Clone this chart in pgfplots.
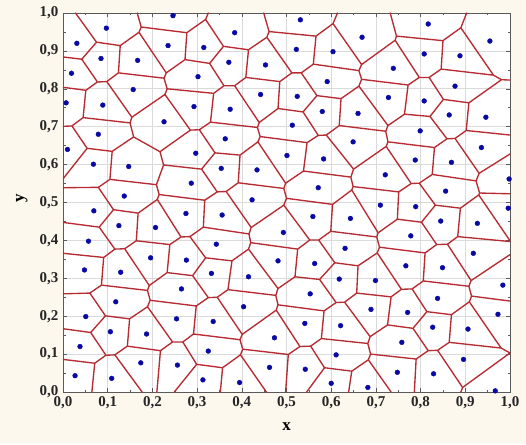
\documentclass[border=0pt]{standalone}
\usepackage{pgfplots}
\pgfplotsset{compat=1.18}
\usepackage{pgfplotstable}
\usepackage{fontspec}
\setmainfont{Liberation Serif}
\definecolor{bgcream}{RGB}{252,248,238}
\definecolor{vred}{RGB}{182,44,50}
\definecolor{dotblue}{RGB}{8,8,165}
\definecolor{gridgray}{RGB}{218,218,218}
\definecolor{framegray}{RGB}{90,90,90}
\pgfplotstableread{
x y
0.246 0.993
0.097 0.960
0.031 0.920
0.235 0.914
0.085 0.880
0.167 0.875
0.019 0.841
0.302 0.832
0.157 0.798
0.007 0.763
0.089 0.757
0.293 0.753
0.226 0.713
0.079 0.680
0.531 0.982
0.384 0.948
0.315 0.909
0.522 0.904
0.604 0.898
0.371 0.870
0.453 0.863
0.591 0.819
0.442 0.785
0.524 0.780
0.374 0.746
0.580 0.740
0.660 0.735
0.513 0.704
0.363 0.668
0.649 0.660
0.817 0.971
0.669 0.936
0.955 0.926
0.808 0.892
0.888 0.887
0.739 0.854
0.877 0.807
0.728 0.777
0.808 0.768
0.864 0.731
0.946 0.725
0.799 0.689
0.936 0.645
0.788 0.612
0.869 0.606
0.721 0.573
0.998 0.562
0.856 0.530
0.710 0.493
0.789 0.489
0.996 0.485
0.643 0.458
0.845 0.451
0.927 0.445
0.778 0.412
0.918 0.366
0.767 0.333
0.849 0.328
0.699 0.294
0.984 0.282
0.838 0.247
0.689 0.218
0.771 0.210
0.973 0.205
0.827 0.171
0.906 0.166
0.758 0.131
0.896 0.086
0.748 0.052
0.829 0.048
0.682 0.012
0.967 0.003
0.297 0.630
0.501 0.624
0.583 0.615
0.354 0.590
0.434 0.586
0.287 0.551
0.571 0.539
0.423 0.507
0.356 0.467
0.559 0.463
0.493 0.421
0.343 0.390
0.631 0.379
0.481 0.346
0.563 0.339
0.332 0.313
0.415 0.304
0.618 0.298
0.553 0.259
0.404 0.225
0.621 0.175
0.541 0.181
0.336 0.186
0.473 0.143
0.611 0.098
0.325 0.108
0.462 0.065
0.542 0.060
0.313 0.032
0.395 0.025
0.600 0.023
0.010 0.640
0.068 0.601
0.147 0.595
0.137 0.517
0.069 0.478
0.275 0.471
0.125 0.439
0.207 0.434
0.057 0.398
0.196 0.354
0.276 0.348
0.048 0.322
0.129 0.316
0.265 0.272
0.118 0.238
0.051 0.199
0.254 0.193
0.106 0.159
0.187 0.153
0.038 0.120
0.174 0.077
0.256 0.071
0.027 0.043
0.109 0.036
}\points
\pgfplotstableread{
x y
0.175 0.963
0.166 1.000
nan nan
0.075 0.923
0.028 1.000
nan nan
0.175 0.963
0.170 0.949
nan nan
0.075 0.923
0.128 0.914
nan nan
0.128 0.914
0.170 0.949
nan nan
0.075 0.923
0.042 0.878
nan nan
0.042 0.878
0.000 0.884
nan nan
0.042 0.878
0.077 0.818
nan nan
0.128 0.914
0.124 0.842
nan nan
0.124 0.842
0.098 0.819
nan nan
0.098 0.819
0.077 0.818
nan nan
0.077 0.818
0.051 0.796
nan nan
0.051 0.796
0.000 0.804
nan nan
0.051 0.796
0.045 0.724
nan nan
0.045 0.724
0.020 0.702
nan nan
0.020 0.702
0.000 0.701
nan nan
0.175 0.963
0.277 0.948
nan nan
0.277 0.948
0.319 0.983
nan nan
0.319 0.983
0.325 1.000
nan nan
0.319 0.983
0.359 0.912
nan nan
0.359 0.912
0.415 0.903
nan nan
0.415 0.903
0.456 0.936
nan nan
0.456 0.936
0.461 0.951
nan nan
0.461 0.951
0.449 1.000
nan nan
0.461 0.951
0.566 0.939
nan nan
0.566 0.939
0.604 0.972
nan nan
0.604 0.972
0.614 1.000
nan nan
0.604 0.972
0.668 0.864
nan nan
0.668 0.864
0.743 0.928
nan nan
0.743 0.928
0.746 0.939
nan nan
0.746 0.939
0.732 1.000
nan nan
0.746 0.939
0.850 0.927
nan nan
0.850 0.927
0.890 0.961
nan nan
0.890 0.961
0.903 1.000
nan nan
0.890 0.961
0.963 0.836
nan nan
0.963 0.836
0.981 0.824
nan nan
0.981 0.824
1.000 0.823
nan nan
0.850 0.927
0.846 0.852
nan nan
0.846 0.852
0.963 0.836
nan nan
0.743 0.928
0.797 0.830
nan nan
0.797 0.830
0.819 0.830
nan nan
0.819 0.830
0.846 0.852
nan nan
0.797 0.830
0.772 0.810
nan nan
0.668 0.864
0.662 0.848
nan nan
0.662 0.848
0.668 0.825
nan nan
0.668 0.825
0.772 0.810
nan nan
0.566 0.939
0.560 0.865
nan nan
0.560 0.865
0.662 0.848
nan nan
0.456 0.936
0.512 0.842
nan nan
0.512 0.842
0.533 0.842
nan nan
0.533 0.842
0.560 0.865
nan nan
0.170 0.949
0.231 0.842
nan nan
0.231 0.842
0.273 0.877
nan nan
0.273 0.877
0.277 0.948
nan nan
0.231 0.842
0.226 0.828
nan nan
0.226 0.828
0.124 0.842
nan nan
0.226 0.828
0.233 0.800
nan nan
0.233 0.800
0.228 0.785
nan nan
0.098 0.819
0.154 0.725
nan nan
0.228 0.785
0.154 0.725
nan nan
0.154 0.725
0.150 0.710
nan nan
0.150 0.710
0.045 0.724
nan nan
0.150 0.710
0.158 0.673
nan nan
0.158 0.673
0.110 0.635
nan nan
0.110 0.635
0.054 0.643
nan nan
0.054 0.643
0.020 0.702
nan nan
0.054 0.643
0.000 0.5625
nan nan
0.110 0.635
0.105 0.561
nan nan
0.105 0.561
0.079 0.540
nan nan
0.079 0.540
0.000 0.539
nan nan
0.158 0.673
0.217 0.634
nan nan
0.228 0.785
0.285 0.691
nan nan
0.285 0.691
0.217 0.634
nan nan
0.285 0.691
0.305 0.692
nan nan
0.305 0.692
0.330 0.712
nan nan
0.330 0.712
0.337 0.788
nan nan
0.233 0.800
0.337 0.788
nan nan
0.273 0.877
0.328 0.867
nan nan
0.328 0.867
0.359 0.912
nan nan
0.328 0.867
0.360 0.808
nan nan
0.360 0.808
0.337 0.788
nan nan
0.415 0.903
0.409 0.830
nan nan
0.409 0.830
0.384 0.808
nan nan
0.384 0.808
0.360 0.808
nan nan
0.409 0.830
0.485 0.819
nan nan
0.485 0.819
0.512 0.842
nan nan
0.485 0.819
0.481 0.748
nan nan
0.384 0.808
0.439 0.711
nan nan
0.439 0.711
0.481 0.748
nan nan
0.439 0.711
0.435 0.698
nan nan
0.435 0.698
0.330 0.712
nan nan
0.435 0.698
0.441 0.674
nan nan
0.441 0.674
0.436 0.660
nan nan
0.481 0.748
0.537 0.739
nan nan
0.533 0.842
0.568 0.782
nan nan
0.537 0.739
0.568 0.782
nan nan
0.568 0.782
0.622 0.774
nan nan
0.622 0.774
0.662 0.807
nan nan
0.662 0.807
0.668 0.825
nan nan
0.772 0.810
0.764 0.733
nan nan
0.662 0.807
0.727 0.703
nan nan
0.727 0.703
0.764 0.733
nan nan
0.727 0.703
0.722 0.688
nan nan
0.622 0.774
0.618 0.703
nan nan
0.618 0.703
0.722 0.688
nan nan
0.618 0.703
0.589 0.678
nan nan
0.589 0.678
0.571 0.677
nan nan
0.571 0.677
0.537 0.739
nan nan
0.571 0.677
0.546 0.658
nan nan
0.546 0.658
0.441 0.674
nan nan
0.546 0.658
0.538 0.583
nan nan
0.538 0.583
0.498 0.551
nan nan
0.498 0.551
0.436 0.660
nan nan
0.498 0.551
0.494 0.537
nan nan
0.494 0.537
0.500 0.511
nan nan
0.500 0.511
0.494 0.493
nan nan
0.436 0.660
0.396 0.625
nan nan
0.396 0.625
0.340 0.631
nan nan
0.340 0.631
0.305 0.692
nan nan
0.340 0.631
0.310 0.588
nan nan
0.217 0.634
0.225 0.599
nan nan
0.225 0.599
0.310 0.588
nan nan
0.225 0.599
0.209 0.547
nan nan
0.209 0.547
0.105 0.561
nan nan
0.209 0.547
0.215 0.521
nan nan
0.310 0.588
0.345 0.528
nan nan
0.345 0.528
0.317 0.506
nan nan
0.317 0.506
0.215 0.521
nan nan
0.396 0.625
0.392 0.552
nan nan
0.392 0.552
0.494 0.537
nan nan
0.392 0.552
0.365 0.529
nan nan
0.365 0.529
0.345 0.528
nan nan
0.494 0.493
0.421 0.434
nan nan
0.421 0.434
0.365 0.529
nan nan
0.421 0.434
0.416 0.417
nan nan
0.416 0.417
0.420 0.394
nan nan
0.420 0.394
0.415 0.377
nan nan
0.416 0.417
0.314 0.435
nan nan
0.314 0.435
0.317 0.506
nan nan
0.314 0.435
0.284 0.410
nan nan
0.284 0.410
0.264 0.409
nan nan
0.215 0.521
0.211 0.508
nan nan
0.211 0.508
0.264 0.409
nan nan
0.211 0.508
0.168 0.472
nan nan
0.168 0.472
0.113 0.481
nan nan
0.113 0.481
0.079 0.540
nan nan
0.113 0.481
0.081 0.435
nan nan
0.081 0.435
0.000 0.4475
nan nan
0.168 0.472
0.164 0.399
nan nan
0.164 0.399
0.239 0.389
nan nan
0.239 0.389
0.264 0.409
nan nan
0.081 0.435
0.116 0.377
nan nan
0.164 0.399
0.138 0.378
nan nan
0.138 0.378
0.116 0.377
nan nan
0.116 0.377
0.091 0.355
nan nan
0.091 0.355
0.000 0.366
nan nan
0.284 0.410
0.319 0.354
nan nan
0.319 0.354
0.378 0.346
nan nan
0.378 0.346
0.415 0.377
nan nan
0.239 0.389
0.233 0.315
nan nan
0.233 0.315
0.290 0.307
nan nan
0.290 0.307
0.319 0.354
nan nan
0.233 0.315
0.193 0.281
nan nan
0.193 0.281
0.138 0.378
nan nan
0.193 0.281
0.189 0.268
nan nan
0.091 0.355
0.086 0.282
nan nan
0.086 0.282
0.189 0.268
nan nan
0.086 0.282
0.060 0.261
nan nan
0.060 0.261
0.000 0.259
nan nan
0.189 0.268
0.195 0.242
nan nan
0.195 0.242
0.189 0.225
nan nan
0.189 0.225
0.149 0.193
nan nan
0.060 0.261
0.095 0.201
nan nan
0.095 0.201
0.149 0.193
nan nan
0.095 0.201
0.062 0.157
nan nan
0.062 0.157
0.000 0.167
nan nan
0.149 0.193
0.144 0.121
nan nan
0.062 0.157
0.096 0.097
nan nan
0.144 0.121
0.116 0.098
nan nan
0.116 0.098
0.096 0.097
nan nan
0.096 0.097
0.071 0.076
nan nan
0.071 0.076
0.000 0.086
nan nan
0.071 0.076
0.0646 0.000
nan nan
0.116 0.098
0.177 0.000
nan nan
0.144 0.121
0.218 0.109
nan nan
0.218 0.109
0.210 0.000
nan nan
0.218 0.109
0.245 0.132
nan nan
0.189 0.225
0.245 0.132
nan nan
0.245 0.132
0.268 0.132
nan nan
0.268 0.132
0.292 0.153
nan nan
0.292 0.153
0.298 0.227
nan nan
0.195 0.242
0.298 0.227
nan nan
0.298 0.227
0.325 0.249
nan nan
0.325 0.249
0.290 0.307
nan nan
0.325 0.249
0.345 0.250
nan nan
0.345 0.250
0.369 0.270
nan nan
0.369 0.270
0.378 0.346
nan nan
0.415 0.377
0.481 0.273
nan nan
0.481 0.273
0.476 0.255
nan nan
0.476 0.255
0.369 0.270
nan nan
0.476 0.255
0.481 0.230
nan nan
0.481 0.230
0.477 0.216
nan nan
0.477 0.216
0.401 0.152
nan nan
0.401 0.152
0.345 0.250
nan nan
0.401 0.152
0.396 0.138
nan nan
0.396 0.138
0.292 0.153
nan nan
0.396 0.138
0.402 0.113
nan nan
0.402 0.113
0.397 0.098
nan nan
0.397 0.098
0.357 0.064
nan nan
0.357 0.064
0.299 0.073
nan nan
0.299 0.073
0.268 0.132
nan nan
0.299 0.073
0.249 0.000
nan nan
0.357 0.064
0.352 0.000
nan nan
0.402 0.113
0.504 0.099
nan nan
0.504 0.099
0.530 0.120
nan nan
0.477 0.216
0.530 0.120
nan nan
0.397 0.098
0.455 0.000
nan nan
0.504 0.099
0.498 0.000
nan nan
0.530 0.120
0.554 0.121
nan nan
0.554 0.121
0.578 0.141
nan nan
0.578 0.141
0.584 0.214
nan nan
0.481 0.230
0.584 0.214
nan nan
0.584 0.214
0.611 0.236
nan nan
0.481 0.273
0.519 0.304
nan nan
0.519 0.304
0.574 0.297
nan nan
0.574 0.297
0.611 0.236
nan nan
0.420 0.394
0.525 0.377
nan nan
0.525 0.377
0.519 0.304
nan nan
0.525 0.377
0.552 0.401
nan nan
0.494 0.493
0.552 0.401
nan nan
0.552 0.401
0.572 0.401
nan nan
0.572 0.401
0.599 0.424
nan nan
0.599 0.424
0.603 0.495
nan nan
0.500 0.511
0.603 0.495
nan nan
0.589 0.678
0.650 0.588
nan nan
0.650 0.588
0.644 0.567
nan nan
0.644 0.567
0.538 0.583
nan nan
0.644 0.567
0.649 0.542
nan nan
0.649 0.542
0.646 0.533
nan nan
0.646 0.533
0.603 0.495
nan nan
0.722 0.688
0.727 0.660
nan nan
0.727 0.660
0.723 0.648
nan nan
0.723 0.648
0.650 0.588
nan nan
0.764 0.733
0.821 0.727
nan nan
0.819 0.830
0.851 0.772
nan nan
0.851 0.772
0.821 0.727
nan nan
0.851 0.772
0.908 0.763
nan nan
0.908 0.763
0.981 0.824
nan nan
0.821 0.727
0.859 0.668
nan nan
0.859 0.668
0.831 0.645
nan nan
0.831 0.645
0.727 0.660
nan nan
0.908 0.763
0.902 0.690
nan nan
0.902 0.690
0.877 0.669
nan nan
0.877 0.669
0.859 0.668
nan nan
0.902 0.690
1.000 0.678
nan nan
0.877 0.669
0.931 0.577
nan nan
0.931 0.577
1.000 0.628
nan nan
0.931 0.577
0.924 0.557
nan nan
0.924 0.557
0.932 0.525
nan nan
0.932 0.525
1.000 0.523
nan nan
0.831 0.645
0.826 0.574
nan nan
0.826 0.574
0.924 0.557
nan nan
0.826 0.574
0.797 0.551
nan nan
0.797 0.551
0.779 0.550
nan nan
0.779 0.550
0.723 0.648
nan nan
0.779 0.550
0.751 0.528
nan nan
0.751 0.528
0.649 0.542
nan nan
0.751 0.528
0.748 0.456
nan nan
0.797 0.551
0.833 0.493
nan nan
0.833 0.493
0.802 0.448
nan nan
0.802 0.448
0.748 0.456
nan nan
0.932 0.525
0.930 0.520
nan nan
0.930 0.520
0.889 0.485
nan nan
0.889 0.485
0.833 0.493
nan nan
0.930 0.520
1.000 0.399
nan nan
0.889 0.485
0.883 0.410
nan nan
0.883 0.410
1.000 0.397
nan nan
0.883 0.410
0.860 0.390
nan nan
0.860 0.390
0.836 0.389
nan nan
0.836 0.389
0.802 0.448
nan nan
0.836 0.389
0.810 0.367
nan nan
0.748 0.456
0.705 0.420
nan nan
0.705 0.420
0.646 0.533
nan nan
0.705 0.420
0.702 0.409
nan nan
0.702 0.409
0.599 0.424
nan nan
0.702 0.409
0.708 0.382
nan nan
0.708 0.382
0.810 0.367
nan nan
0.708 0.382
0.703 0.367
nan nan
0.703 0.367
0.660 0.333
nan nan
0.660 0.333
0.608 0.341
nan nan
0.608 0.341
0.572 0.401
nan nan
0.608 0.341
0.574 0.297
nan nan
0.660 0.333
0.657 0.261
nan nan
0.657 0.261
0.630 0.237
nan nan
0.630 0.237
0.611 0.236
nan nan
0.630 0.237
0.687 0.146
nan nan
0.687 0.146
0.682 0.128
nan nan
0.682 0.128
0.578 0.141
nan nan
0.687 0.146
0.726 0.177
nan nan
0.657 0.261
0.734 0.251
nan nan
0.734 0.251
0.726 0.177
nan nan
0.703 0.367
0.757 0.271
nan nan
0.757 0.271
0.734 0.251
nan nan
0.757 0.271
0.781 0.272
nan nan
0.781 0.272
0.806 0.293
nan nan
0.806 0.293
0.810 0.367
nan nan
0.860 0.390
0.913 0.294
nan nan
0.913 0.294
1.000 0.3625
nan nan
0.913 0.294
0.908 0.279
nan nan
0.908 0.279
0.806 0.293
nan nan
0.908 0.279
0.914 0.253
nan nan
0.914 0.253
1.000 0.240
nan nan
0.914 0.253
0.909 0.238
nan nan
0.909 0.238
0.869 0.204
nan nan
0.781 0.272
0.814 0.212
nan nan
0.814 0.212
0.869 0.204
nan nan
0.814 0.212
0.783 0.168
nan nan
0.783 0.168
0.726 0.177
nan nan
0.783 0.168
0.817 0.109
nan nan
0.817 0.109
0.790 0.087
nan nan
0.869 0.204
0.864 0.131
nan nan
0.864 0.131
0.838 0.110
nan nan
0.838 0.110
0.817 0.109
nan nan
0.909 0.238
0.980 0.116
nan nan
0.980 0.116
0.864 0.131
nan nan
0.980 0.116
1.000 0.103
nan nan
1.000 0.103
0.894 0.012
nan nan
0.894 0.012
0.838 0.110
nan nan
0.894 0.012
0.890 0.000
nan nan
0.790 0.087
0.786 0.000
nan nan
0.682 0.128
0.688 0.100
nan nan
0.688 0.100
0.790 0.087
nan nan
0.688 0.100
0.683 0.085
nan nan
0.683 0.085
0.734 0.000
nan nan
0.683 0.085
0.646 0.055
nan nan
0.646 0.055
0.639 0.000
nan nan
0.554 0.121
0.585 0.064
nan nan
0.585 0.064
0.646 0.055
nan nan
0.585 0.064
0.545 0.000
}\edges
\begin{document}
\begin{tikzpicture}[x=1pt,y=1pt]
\fill[bgcream] (-63,-52) rectangle (463,392);
\begin{axis}[
  at={(0,0)}, anchor=south west,
  scale only axis, width=447pt, height=379pt,
  xmin=0, xmax=1, ymin=0, ymax=1,
  axis background/.style={fill=white},
  axis line style={framegray, line width=0.8pt},
  xtick={0,0.1,...,1.0}, ytick={0,0.1,...,1.0},
  minor tick num=1,
  tick align=inside,
  major tick length=4pt, minor tick length=2.5pt,
  tick style={framegray, line width=0.5pt},
  xtick pos=both, ytick pos=both,
  grid=major,
  major grid style={gridgray, line width=0.6pt},
  /pgf/number format/.cd, fixed, fixed zerofill, precision=1, use comma, assume math mode=true,
  /pgfplots/.cd,
  ticklabel style={font=\fontsize{15}{18}\selectfont\bfseries, text=black!85},
  xticklabel style={yshift=-1pt},
  yticklabel style={xshift=-1pt},
  xlabel={x}, ylabel={y},
  label style={font=\fontsize{17}{20}\selectfont\bfseries},
  x label style={at={(axis description cs:0.5,-0.092)}, anchor=center},
  y label style={at={(axis description cs:-0.092,0.51)}, anchor=center, rotate=0},
]
\addplot[vred, line width=1.35pt, unbounded coords=jump, line join=round, line cap=round] table[x=x,y=y] {\edges};
\addplot[only marks, mark=*, mark size=2.4pt, color=dotblue] table[x=x,y=y] {\points};
\end{axis}
\end{tikzpicture}
\end{document}
